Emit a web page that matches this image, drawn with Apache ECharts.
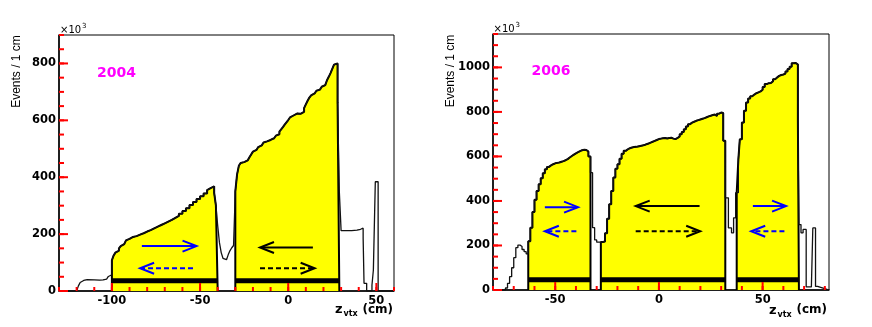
<!DOCTYPE html>
<html>
<head>
<meta charset="utf-8">
<script src="https://cdn.jsdelivr.net/npm/echarts@6/dist/echarts.min.js"></script>
<style>
  html, body { margin: 0; padding: 0; background: #fff; }
  #main { width: 872px; height: 327px; }
</style>
</head>
<body>
<div id="main"></div>
<script>
// histogram bins: [low edge (cm), events / 1 cm (x10^3)], each bin lasts until the next edge
var range04 = [-130, 60];
var hist04 = [
  [-130, 0], [-120, 6], [-119, 18], [-118, 30], [-117, 37], [-116, 40], [-114, 39], [-110, 38],
  [-107, 39], [-105, 42], [-103, 46], [-102, 51], [-101, 57],
  [-100, 108], [-99, 125], [-98, 135], [-97, 142], [-96, 150], [-95, 158], [-94, 165], [-93, 172],
  [-92, 178], [-91, 183], [-90, 187], [-89, 190], [-88, 193], [-86, 198], [-84, 203], [-82, 209],
  [-80, 214], [-78, 220], [-76, 226], [-74, 232], [-72, 238], [-70, 244], [-68, 250], [-66, 257],
  [-64, 264], [-62, 272], [-60, 281], [-58, 291], [-56, 302], [-54, 313], [-52, 323], [-50, 333],
  [-48, 343], [-46, 355], [-45, 362], [-44, 366], [-43, 368], [-42, 345], [-41, 300],
  [-40, 230], [-39, 170], [-38, 135], [-37, 115], [-36, 110], [-35, 115], [-34, 128], [-33, 142],
  [-32, 152], [-31, 160],
  [-30, 350], [-29, 410], [-28, 440], [-27, 450], [-26, 453], [-25, 456], [-24, 459], [-23, 463],
  [-22, 470], [-21, 480], [-20, 490], [-19, 496], [-18, 501], [-17, 506], [-16, 512], [-15, 517],
  [-14, 522], [-13, 526], [-12, 528], [-11, 531], [-10, 534], [-9, 537], [-8, 541], [-7, 546],
  [-6, 551], [-5, 560], [-4, 568], [-3, 576], [-2, 585], [-1, 593], [0, 601], [1, 610], [2, 617],
  [3, 622], [4, 624], [5, 626], [6, 623], [7, 620], [8, 630], [9, 643], [10, 656], [11, 669],
  [12, 680], [13, 688], [14, 695], [15, 700], [16, 704], [17, 708], [18, 712], [19, 718], [20, 724],
  [21, 731], [22, 741], [23, 753], [24, 766], [25, 781], [26, 796], [27, 800], [28, 664],
  [29, 348], [30, 212], [33, 212], [36, 214], [39, 217], [41, 221], [42.5, 185], [43, 27],
  [44.5, 0], [47.5, 20], [48.3, 74], [49.4, 384], [51, 0]
];
var fill04 = [[-100, -40], [-30, 29]];
var barLevel04 = 36;
var solidArrows04 = [[-83, -52, 158], [14, -16, 153]];
var dashedArrows04 = [[-54, -84, 80], [-16, 15, 80]];
var xTicks04 = [-100, -50, 0, 50];
var yTicks04 = [0, 200, 400, 600, 800];
var yMax04 = 900;

var range06 = [-80, 82];
var hist06 = [
  [-80, 0], [-74, 9], [-73, 30], [-72, 60], [-71, 100], [-70, 145], [-69, 190], [-68, 202],
  [-67, 195], [-66, 182], [-65, 172], [-64, 162],
  [-63, 219], [-62, 280], [-61, 350], [-60, 405], [-59, 445], [-58, 475], [-57, 502], [-56, 525],
  [-55, 542], [-54, 553], [-53, 560], [-52, 565], [-51, 569], [-50, 571], [-49, 573], [-48, 576],
  [-47, 579], [-46, 583], [-45, 588], [-44, 595], [-43, 602], [-42, 608], [-41, 614], [-40, 619],
  [-39, 624], [-38, 628], [-37, 630], [-36, 629], [-35, 622], [-34, 600],
  [-33, 527], [-32, 280], [-31, 225], [-30, 215],
  [-28, 216], [-27, 218], [-26, 255], [-25, 320], [-24, 385], [-23, 445], [-22, 505], [-21, 545],
  [-20, 565], [-19, 590], [-18, 612], [-17, 625], [-16, 632], [-15, 637], [-14, 640], [-13, 642],
  [-12, 643], [-11, 645], [-10, 647], [-9, 649], [-8, 651], [-7, 655], [-6, 658], [-5, 662],
  [-4, 666], [-3, 670], [-2, 674], [-1, 678], [0, 680], [1, 682], [2, 683], [3, 681], [4, 683],
  [5, 684], [6, 680], [7, 678], [8, 683], [9, 690], [10, 700], [11, 710], [12, 722], [13, 735],
  [14, 745], [15, 752], [16, 756], [17, 760], [18, 763], [19, 766], [20, 769], [21, 772], [22, 776],
  [23, 780], [24, 783], [25, 786], [26, 788], [27, 782], [28, 792], [29, 797], [30, 795], [31, 670],
  [32, 414], [33.5, 279], [35, 257], [36, 324], [37, 437],
  [37.5, 437], [38.3, 587], [39, 677], [40, 752], [41, 805], [42, 842], [43, 860], [44, 870],
  [45, 878], [46, 884], [47, 888], [48, 892], [49, 900], [50, 912], [51, 925], [52, 929], [53, 930],
  [54, 938], [55, 947], [56, 955], [57, 962], [58, 966], [59, 968], [60, 972], [61, 982], [62, 993],
  [63, 1003], [64, 1019], [65, 1020], [66, 1013], [67, 760],
  [67.5, 294], [68.5, 257], [69.5, 272], [71, 14], [73.5, 10], [74.2, 279], [75.5, 16],
  [76.5, 12], [78, 6], [80, 0]
];
var fill06 = [[-63, -33], [-28, 32], [37.5, 67.5]];
var barLevel06 = 46;
var solidArrows06 = [[-55, -39, 372], [19.6, -11.2, 377], [45.3, 61.3, 377]];
var dashedArrows06 = [[-39.8, -55, 264], [-11.2, 19.9, 264], [60.5, 44.5, 264]];
var xTicks06 = [-50, 0, 50];
var yTicks06 = [0, 200, 400, 600, 800, 1000];
var yMax06 = 1150;

var minorStepX = 10, minorStepY = 50;
var BLUE = '#0000ff', BLACK = '#000000', YELLOW = '#ffff00', MAGENTA = '#ff00ff';
var TICK = '#ff0000';

var panels = [
  { label: '2004', range: range04, hist: hist04, fill: fill04, bar: barLevel04,
    solid: solidArrows04, dashed: dashedArrows04, xTicks: xTicks04, yTicks: yTicks04, yMax: yMax04,
    arrowColors: [BLUE, BLACK],
    grid: { left: 59, top: 35, width: 335, height: 256 },
    text: { ytitle: [17, 71.5], x10: [60, 30], label: [97, 73], xtitle: [335, 310] } },
  { label: '2006', range: range06, hist: hist06, fill: fill06, bar: barLevel06,
    solid: solidArrows06, dashed: dashedArrows06, xTicks: xTicks06, yTicks: yTicks06, yMax: yMax06,
    arrowColors: [BLUE, BLACK, BLUE],
    grid: { left: 493, top: 34, width: 336, height: 256 },
    text: { ytitle: [451, 71], x10: [493.5, 29.5], label: [531.5, 71], xtitle: [769, 310.5] } }
];

function steps(hist, range) {
  var pts = hist.map(function (b) { return [b[0], b[1]]; });
  pts.push([range[1], hist[hist.length - 1][1]]);
  return pts;
}
function valueAt(hist, x) {
  var v = 0;
  hist.forEach(function (b) { if (b[0] <= x) v = b[1]; });
  return v;
}
function clipped(hist, a, b) {
  var pts = [[a, 0], [a, valueAt(hist, a)]];
  hist.forEach(function (bin) { if (bin[0] > a && bin[0] < b) pts.push([bin[0], bin[1]]); });
  pts.push([b, valueAt(hist, b - 1e-6)]);
  pts.push([b, 0]);
  return pts;
}
function every(from, to, step) {
  var out = [];
  for (var v = Math.ceil(from / step) * step; v <= to + 1e-9; v += step) out.push(v);
  return out;
}
function arrowRenderer(colors, dashed) {
  return function (params, api) {
    var y = api.value(2);
    var p1 = api.coord([api.value(0), y]);
    var p2 = api.coord([api.value(1), y]);
    var d = p2[0] > p1[0] ? 1 : -1;
    var c = colors[params.dataIndex];
    return {
      type: 'group',
      children: [
        { type: 'line', shape: { x1: p1[0], y1: p1[1], x2: p2[0] - d, y2: p2[1] },
          style: { stroke: c, lineWidth: 2, lineDash: dashed ? [5, 3] : null } },
        { type: 'polyline', shape: { points: [[p2[0] - d * 14, p2[1] - 5.5], [p2[0], p2[1]], [p2[0] - d * 14, p2[1] + 5.5]] },
          style: { stroke: c, lineWidth: 2, fill: null } }
      ]
    };
  };
}
// inward ticks placed through the axes: dim 0 = x axis ticks, dim 1 = y axis ticks
function tickRenderer(dim, len) {
  return function (params, api) {
    var p = api.coord([api.value(0), api.value(1)]);
    var q = dim === 0 ? [p[0], p[1] - len] : [p[0] + len, p[1]];
    return { type: 'line', shape: { x1: p[0], y1: p[1], x2: q[0], y2: q[1] },
      style: { stroke: TICK, lineWidth: 2 } };
  };
}

var labelFont = { color: '#000', fontWeight: 'bold', fontFamily: 'DejaVu Sans', fontSize: 11.5,
  formatter: function (v) { return String(v); } };
var grids = [], xAxes = [], yAxes = [], series = [], graphics = [];

panels.forEach(function (p, g) {
  grids.push(Object.assign({ show: true, borderColor: '#000', borderWidth: 1 }, p.grid));
  xAxes.push({
    type: 'value', gridIndex: g, min: p.range[0], max: p.range[1], position: 'bottom',
    axisLine: { show: true, onZero: false, lineStyle: { color: '#000', width: 1.5 } },
    axisTick: { show: false },
    axisLabel: Object.assign({ customValues: p.xTicks, margin: 4 }, labelFont),
    splitLine: { show: false }
  });
  yAxes.push({
    type: 'value', gridIndex: g, min: 0, max: p.yMax, position: 'left',
    axisLine: { show: true, onZero: false, lineStyle: { color: '#000', width: 1.5 } },
    axisTick: { show: false },
    axisLabel: Object.assign({ customValues: p.yTicks, margin: 3 }, labelFont),
    splitLine: { show: false }
  });

  p.fill.forEach(function (r) {
    series.push({
      type: 'line', xAxisIndex: g, yAxisIndex: g, step: 'end', symbol: 'none', z: 2,
      data: clipped(p.hist, r[0], r[1]),
      lineStyle: { color: '#000', width: 2 },
      areaStyle: { color: YELLOW, opacity: 1 }
    });
    series.push({
      type: 'line', xAxisIndex: g, yAxisIndex: g, symbol: 'none', z: 3,
      data: [[r[0], p.bar], [r[1], p.bar]],
      lineStyle: { color: '#000', width: 5, cap: 'butt' }
    });
  });
  series.push({
    type: 'custom', xAxisIndex: g, yAxisIndex: g, z: 4, encode: { x: [0, 1], y: 2 },
    data: p.solid, renderItem: arrowRenderer(p.arrowColors, false)
  }, {
    type: 'custom', xAxisIndex: g, yAxisIndex: g, z: 4, encode: { x: [0, 1], y: 2 },
    data: p.dashed, renderItem: arrowRenderer(p.arrowColors, true)
  }, {
    type: 'line', xAxisIndex: g, yAxisIndex: g, step: 'end', symbol: 'none', z: 5,
    data: steps(p.hist, p.range),
    lineStyle: { color: '#111', width: 1.3 }
  });

  var x0 = p.range[0];
  [
    [0, 8, p.xTicks.map(function (v) { return [v, 0]; })],
    [0, 4, every(x0, p.range[1], minorStepX).map(function (v) { return [v, 0]; })],
    [1, 9, p.yTicks.map(function (v) { return [x0, v]; })],
    [1, 5, every(0, p.yMax, minorStepY).map(function (v) { return [x0, v]; })]
  ].forEach(function (spec) {
    series.push({
      type: 'custom', xAxisIndex: g, yAxisIndex: g, z: 6,
      encode: { x: 0, y: 1 }, data: spec[2], renderItem: tickRenderer(spec[0], spec[1])
    });
  });

  var t = p.text;
  graphics.push(
    { type: 'text', x: t.ytitle[0], y: t.ytitle[1], rotation: Math.PI / 2,
      style: { text: 'Events / 1 cm', font: '12px "Liberation Sans"', fill: '#000', align: 'center', verticalAlign: 'middle' } },
    { type: 'text', x: t.x10[0], y: t.x10[1],
      style: { text: '\u00d710', font: '10px "DejaVu Sans"', fill: '#000', align: 'left', verticalAlign: 'middle' } },
    { type: 'text', x: t.x10[0] + 22, y: t.x10[1] - 4,
      style: { text: '3', font: '7px "DejaVu Sans"', fill: '#000', align: 'left', verticalAlign: 'middle' } },
    { type: 'text', x: t.label[0], y: t.label[1],
      style: { text: p.label, font: 'bold 14px "DejaVu Sans"', fill: MAGENTA, align: 'left', verticalAlign: 'middle' } },
    { type: 'text', x: t.xtitle[0], y: t.xtitle[1],
      style: { text: 'z', font: 'bold 13px "DejaVu Sans"', fill: '#000', align: 'left', verticalAlign: 'middle' } },
    { type: 'text', x: t.xtitle[0] + 8.5, y: t.xtitle[1] + 4,
      style: { text: 'vtx', font: 'bold 8px "DejaVu Sans"', fill: '#000', align: 'left', verticalAlign: 'middle' } },
    { type: 'text', x: t.xtitle[0] + 27.5, y: t.xtitle[1] - 0.5,
      style: { text: '(cm)', font: 'bold 12px "DejaVu Sans"', fill: '#000', align: 'left', verticalAlign: 'middle' } }
  );
});

var myChart = echarts.init(document.getElementById('main'));
myChart.setOption({
  animation: false,
  grid: grids,
  xAxis: xAxes,
  yAxis: yAxes,
  series: series,
  graphic: graphics
});
</script>
</body>
</html>
